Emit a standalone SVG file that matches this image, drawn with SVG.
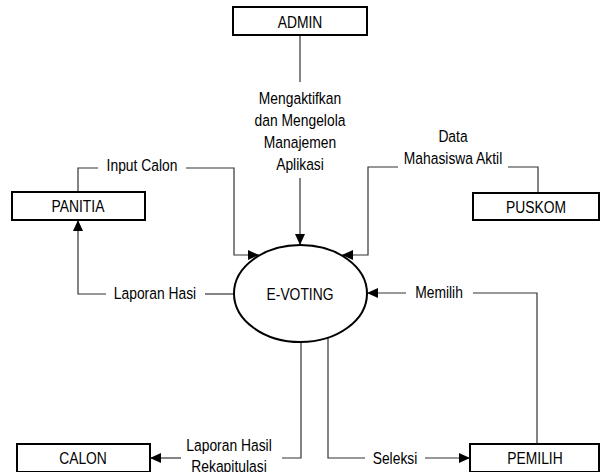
<svg xmlns="http://www.w3.org/2000/svg" width="600" height="472" viewBox="0 0 600 472">
<defs>
<style>
.box{fill:#fff;stroke:#000;stroke-width:2}
.proc{fill:#fff;stroke:#000;stroke-width:2}
.c{fill:none;stroke:#333;stroke-width:1.2}
.t{font-family:"Liberation Sans",Arial,sans-serif;font-size:16.5px;fill:#000;text-anchor:middle}
</style>
<marker id="ah" markerUnits="userSpaceOnUse" markerWidth="12" markerHeight="10" refX="11" refY="5" orient="auto">
<path d="M0,0 L11,5 L0,10 Z" fill="#000"/>
</marker>
</defs>
<rect width="600" height="472" fill="#fff"/>
<g id="connectors">
<path class="c" d="M300,35 V82"/>
<path class="c" d="M300,178 V245" marker-end="url(#ah)"/>
<path class="c" d="M78,192 V168 H98"/>
<path class="c" d="M186,168 H234 V255 H259" marker-end="url(#ah)"/>
<path class="c" d="M538,193 V167 H508"/>
<path class="c" d="M398,167 H368 V255 H342" marker-end="url(#ah)"/>
<path class="c" d="M234,294 H205"/>
<path class="c" d="M106,294 H78 V220" marker-end="url(#ah)"/>
<path class="c" d="M537,444 V293 H473"/>
<path class="c" d="M406,293 H367" marker-end="url(#ah)"/>
<path class="c" d="M301,342 V458 H282"/>
<path class="c" d="M181,458 H150" marker-end="url(#ah)"/>
<path class="c" d="M328,338 V458 H365"/>
<path class="c" d="M425,458 H470" marker-end="url(#ah)"/>
</g>
<g id="labels">
<text class="t" transform="translate(300 104) scale(0.84 1)">Mengaktifkan</text>
<text class="t" transform="translate(300 126) scale(0.84 1)">dan Mengelola</text>
<text class="t" transform="translate(300 148) scale(0.84 1)">Manajemen</text>
<text class="t" transform="translate(300 170) scale(0.84 1)">Aplikasi</text>
<text class="t" transform="translate(142 171) scale(0.84 1)">Input Calon</text>
<text class="t" transform="translate(453 142) scale(0.84 1)">Data</text>
<text class="t" transform="translate(453 164) scale(0.84 1)">Mahasiswa Aktil</text>
<text class="t" transform="translate(155 299) scale(0.84 1)">Laporan Hasi</text>
<text class="t" transform="translate(439 298) scale(0.84 1)">Memilih</text>
<text class="t" transform="translate(229 451) scale(0.84 1)">Laporan Hasil</text>
<text class="t" transform="translate(229 472) scale(0.84 1)">Rekapitulasi</text>
<text class="t" transform="translate(395 464) scale(0.84 1)">Seleksi</text>
</g>
<g id="admin">
<rect class="box" x="233" y="7" width="134" height="28"/>
<text class="t" transform="translate(300 28) scale(0.84 1)">ADMIN</text>
</g>
<g id="panitia">
<rect class="box" x="12" y="192" width="133" height="28"/>
<text class="t" transform="translate(78 212) scale(0.84 1)">PANITIA</text>
</g>
<g id="puskom">
<rect class="box" x="473" y="193" width="126" height="27"/>
<text class="t" transform="translate(536 213) scale(0.84 1)">PUSKOM</text>
</g>
<g id="evoting">
<ellipse class="proc" cx="300.5" cy="293.5" rx="66.5" ry="48.5"/>
<text class="t" transform="translate(300 300) scale(0.84 1)">E-VOTING</text>
</g>
<g id="calon">
<rect class="box" x="17" y="444" width="133" height="28"/>
<text class="t" transform="translate(83 464) scale(0.84 1)">CALON</text>
</g>
<g id="pemilih">
<rect class="box" x="470" y="444" width="129" height="28"/>
<text class="t" transform="translate(535 464) scale(0.84 1)">PEMILIH</text>
</g>
</svg>
